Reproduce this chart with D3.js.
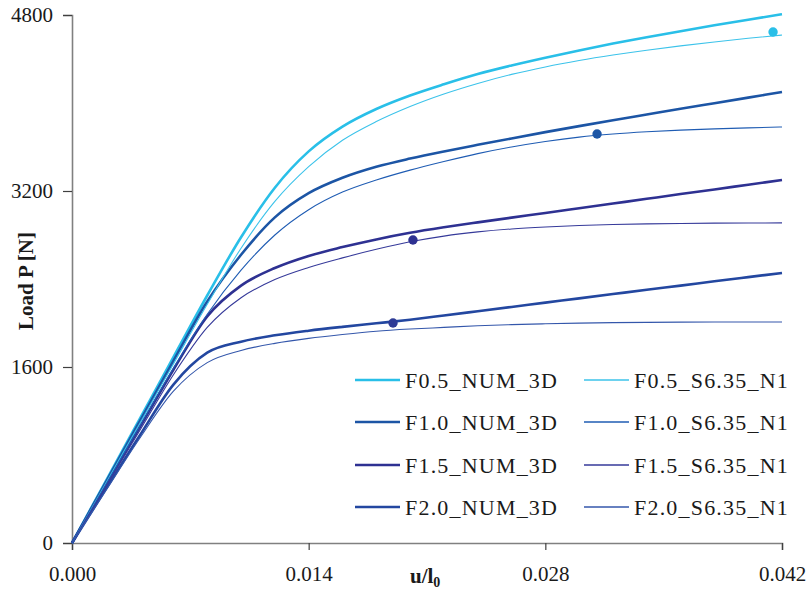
<!DOCTYPE html>
<html><head><meta charset="utf-8">
<script src="https://cdn.jsdelivr.net/npm/d3@7/dist/d3.min.js"></script>
<style>
html,body{margin:0;padding:0;background:#fff;}
svg text{font-family:"Liberation Serif","Times New Roman",serif;fill:#1a1a1a;}
</style></head>
<body>
<svg id="chart" width="809" height="592"></svg>
<script>
const xValues = [0, 0.002, 0.004, 0.006, 0.008, 0.010, 0.012, 0.014, 0.016, 0.018, 0.020, 0.022, 0.024, 0.026, 0.028, 0.030, 0.032, 0.034, 0.036, 0.038, 0.040, 0.042];

const F05_NUM = [0, 563, 1126, 1689, 2250, 2780, 3230, 3560, 3785, 3945, 4068, 4170, 4263, 4341, 4412, 4478, 4540, 4598, 4653, 4706, 4757, 4807];
const F05_S   = [0, 543, 1085, 1628, 2170, 2680, 3105, 3421, 3661, 3831, 3968, 4082, 4178, 4260, 4328, 4386, 4436, 4480, 4519, 4555, 4588, 4618];
const F10_NUM = [0, 552, 1104, 1656, 2195, 2620, 2960, 3180, 3320, 3420, 3495, 3560, 3620, 3678, 3735, 3790, 3843, 3895, 3947, 3998, 4049, 4100];
const F10_S   = [0, 530, 1060, 1590, 2080, 2480, 2800, 3030, 3190, 3300, 3390, 3468, 3540, 3600, 3650, 3690, 3718, 3738, 3753, 3765, 3774, 3782];
const F15_NUM = [0, 525, 1050, 1575, 2060, 2340, 2500, 2610, 2690, 2760, 2820, 2870, 2915, 2958, 3000, 3043, 3086, 3129, 3172, 3214, 3257, 3300];
const F15_S   = [0, 510, 1020, 1530, 1960, 2230, 2395, 2505, 2592, 2670, 2738, 2790, 2828, 2855, 2873, 2886, 2895, 2901, 2905, 2908, 2909, 2910];
const F20_NUM = [0, 490, 975, 1440, 1730, 1830, 1888, 1930, 1965, 1997, 2030, 2068, 2107, 2146, 2185, 2224, 2263, 2302, 2340, 2379, 2417, 2455];
const F20_S   = [0, 475, 950, 1380, 1640, 1750, 1815, 1860, 1895, 1925, 1945, 1960, 1975, 1985, 1993, 1999, 2003, 2006, 2008, 2009, 2009, 2009];

const seriesNames = ["F0.5_NUM_3D", "F0.5_S6.35_N1", "F1.0_NUM_3D", "F1.0_S6.35_N1", "F1.5_NUM_3D", "F1.5_S6.35_N1", "F2.0_NUM_3D", "F2.0_S6.35_N1"];
const seriesValues = [F05_NUM, F05_S, F10_NUM, F10_S, F15_NUM, F15_S, F20_NUM, F20_S];

const markerX = [0.04147, 0.03106, 0.02017, 0.01899];
const markerY = [4645, 3718, 2755, 2000];

const xTicks = [0, 0.014, 0.028, 0.042];
const yTicks = [0, 1600, 3200, 4800];

const colors = ["#29bfe8", "#3cc3ea", "#1c55a5", "#1f5cb3", "#2e3192", "#363a9a", "#2347a0", "#3457ab"];
const widths = [2.6, 1.1, 2.6, 1.1, 2.6, 1.1, 2.6, 1.1];
const markerColors = ["#29bfe8", "#1d56a6", "#2e3192", "#2e3b96"];

const svg = d3.select("#chart");
const x = d3.scaleLinear().domain([0, 0.042]).range([72, 782]);
const y = d3.scaleLinear().domain([0, 4800]).range([543, 15]);

// axes
const xAxis = d3.axisBottom(x).tickValues(xTicks).tickFormat(d3.format(".3f")).tickSize(7).tickPadding(16);
const yAxis = d3.axisLeft(y).tickValues(yTicks).tickFormat(d3.format("d")).tickSize(9).tickPadding(10);

const gx = svg.append("g").attr("transform", `translate(0,${y(0)})`).call(xAxis);
const gy = svg.append("g").attr("transform", `translate(${x(0)},0)`).call(yAxis);
[gx, gy].forEach(g => {
  g.select(".domain").attr("stroke", "#808080").attr("stroke-width", 1.6);
  g.selectAll(".tick line").attr("stroke", "#404040").attr("stroke-width", 1.2);
  g.selectAll(".tick text").attr("font-family", "Liberation Serif").attr("font-size", 21).attr("fill", "#1a1a1a");
});

// lines
const line = d3.line().x((d, i) => x(xValues[i])).y(d => y(d)).curve(d3.curveMonotoneX);
const order = [0, 2, 4, 6, 1, 3, 5, 7];
order.forEach(k => {
  svg.append("path").datum(seriesValues[k])
    .attr("fill", "none").attr("stroke", colors[k]).attr("stroke-width", widths[k])
    .attr("stroke-linejoin", "round").attr("d", line);
});

// markers
svg.selectAll("circle.m").data(markerX).enter().append("circle")
  .attr("cx", d => x(d)).attr("cy", (d, i) => y(markerY[i])).attr("r", 4.7)
  .attr("fill", (d, i) => markerColors[i]);

// axis titles
svg.append("text").attr("x", 410).attr("y", 583).attr("font-size", 21).attr("font-weight", "bold")
  .text("u/l").append("tspan").attr("font-size", 14).attr("dy", 4).text("0");
svg.append("text").attr("transform", "translate(33,281) rotate(-90)").attr("text-anchor", "middle")
  .attr("font-size", 21).attr("font-weight", "bold").text("Load P [N]");

// legend
const legendRows = [380, 422, 465, 507];
const legendCols = [355, 584];
seriesNames.forEach((name, k) => {
  const col = k % 2, row = Math.floor(k / 2);
  const lx = legendCols[col], ly = legendRows[row];
  svg.append("line").attr("x1", lx).attr("x2", lx + 45).attr("y1", ly).attr("y2", ly)
    .attr("stroke", colors[k]).attr("stroke-width", col === 0 ? 2.6 : 1.3);
  svg.append("text").attr("x", lx + 50).attr("y", ly + 7.5).attr("font-size", 22)
    .attr("letter-spacing", 1.2).text(name);
});
</script>
</body></html>
